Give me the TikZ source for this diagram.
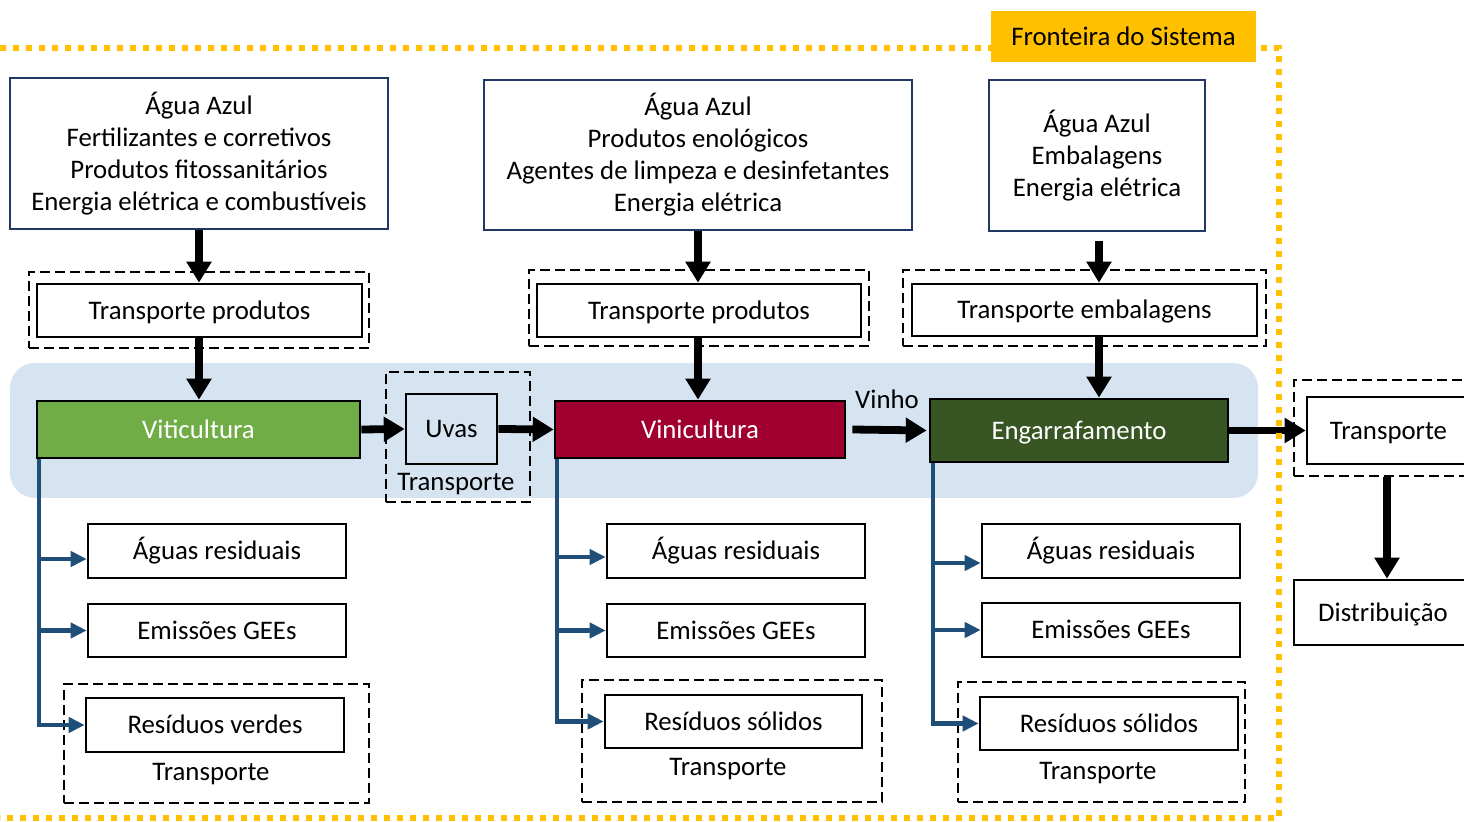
\documentclass[tikz,border=0pt]{standalone}
\usepackage{fontspec}
\setmainfont{Carlito}
\usetikzlibrary{arrows.meta}

\definecolor{navyline}{HTML}{1F3864}
\definecolor{bandblue}{HTML}{D6E4F2}
\definecolor{vitgreen}{HTML}{70AD47}
\definecolor{vinred}{HTML}{A0002F}
\definecolor{enggreen}{HTML}{375623}
\definecolor{outblue}{HTML}{1F4E79}
\definecolor{gold}{HTML}{FFC000}

\begin{document}
\begin{tikzpicture}[x=0.5pt,y=-0.5pt,
  font=\fontsize{13.4pt}{16pt}\selectfont,
  sz/.style 2 args={minimum width=#1*0.5pt, minimum height=#2*0.5pt},
  oneline/.style={text height=11pt, text depth=2pt},
  inbox/.style={draw=navyline, line width=1.4pt, fill=white, inner sep=0pt, align=center},
  sbox/.style={draw=black, line width=1.3pt, inner sep=0pt, oneline},
  dbox/.style={draw=black, line width=1.2pt, dash pattern=on 5pt off 2.5pt, inner sep=0pt},
  proc/.style={draw=black, line width=1.3pt, inner sep=0pt, text=white, oneline},
  flow/.style={line width=3.9pt, -{Triangle[length=10.5pt,width=12pt]}},
  outflow/.style={draw=outblue, line width=2.2pt, -{Triangle[length=8pt,width=7.5pt]}},
  boundary/.style={draw=gold, line width=2.6pt, dash pattern=on 3.2pt off 3.3pt},
]
\useasboundingbox (0,0) rectangle (1464,822);
\clip (0,0) rectangle (1464,822);

% process band
\fill[bandblue, rounded corners=12.5pt] (10,363) rectangle (1258,498);

% inputs
\node[inbox, sz={378}{151}] (in1) at (199,153.5) {Água Azul\\Fertilizantes e corretivos\\Produtos fitossanitários\\Energia elétrica e combustíveis};
\node[inbox, sz={428}{150}] (in2) at (698,155) {Água Azul\\Produtos enológicos\\Agentes de limpeza e desinfetantes\\Energia elétrica};
\node[inbox, sz={216}{151}] (in3) at (1097,155.5) {Água Azul\\Embalagens\\Energia elétrica};

% transport of inputs
\node[dbox, sz={340}{76}] (tp1d) at (199,310) {};
\node[sbox, sz={325}{53}] (tp1) at (199.5,310.5) {Transporte produtos};
\node[dbox, sz={340}{76}] (tp2d) at (699,308) {};
\node[sbox, sz={324}{53}] (tp2) at (699,310.5) {Transporte produtos};
\node[dbox, sz={363}{76}] (tp3d) at (1084.5,308) {};
\node[sbox, sz={345}{52}] (tp3) at (1084.5,310) {Transporte embalagens};

% main processes
\node[proc, fill=vitgreen, sz={323}{57}] (vit) at (198.5,429.5) {Viticultura};
\node[dbox, sz={144}{130}] (uvd) at (458,437) {};
\node[sbox, sz={91}{70}] (uv) at (451.5,429) {Uvas};
\node (uvt) at (456,484) {Transporte};
\node[proc, fill=vinred, sz={290}{57}] (vin) at (700,429.5) {Vinicultura};
\node (vinho) at (887,399) {Vinho};
\node[proc, fill=enggreen, sz={298}{63}] (eng) at (1079,430.5) {Engarrafamento};

% downstream
\node[dbox, sz={186}{96}] (trd) at (1387,428) {};
\node[sbox, sz={163}{67}] (tr) at (1388.5,430.5) {Transporte};
\node[sbox, sz={178}{65}] (dist) at (1383,612.5) {Distribuição};

% outputs
\node[sbox, sz={258}{54}] (a1) at (217,551) {Águas residuais};
\node[sbox, sz={258}{53}] (e1) at (217,630.5) {Emissões GEEs};
\node[dbox, sz={305}{119}] (r1d) at (216.5,743.5) {};
\node[sbox, sz={258}{54}] (r1) at (215,725) {Resíduos verdes};
\node (r1t) at (211,774) {Transporte};

\node[sbox, sz={258}{54}] (a2) at (736,551) {Águas residuais};
\node[sbox, sz={258}{53}] (e2) at (736,630.5) {Emissões GEEs};
\node[dbox, sz={300}{122}] (r2d) at (732,741) {};
\node[sbox, sz={257}{53}] (r2) at (733.5,721.5) {Resíduos sólidos};
\node (r2t) at (728,769) {Transporte};

\node[sbox, sz={258}{54}] (a3) at (1111,551) {Águas residuais};
\node[sbox, sz={258}{54}] (e3) at (1111,630) {Emissões GEEs};
\node[dbox, sz={287}{120}] (r3d) at (1101.5,742) {};
\node[sbox, sz={258}{53}] (r3) at (1109,723.5) {Resíduos sólidos};
\node (r3t) at (1098,773) {Transporte};

% input flows
\draw[flow] (in1.south) -- (in1.south |- tp1.north);
\draw[flow] (tp1.south -| in1.south) -- (in1.south |- vit.north);
\draw[flow] (in2.south) -- (in2.south |- tp2.north);
\draw[flow] (tp2.south -| in2.south) -- (in2.south |- vin.north);
\draw[flow] ([xshift=1pt,yshift=-4.5pt]in3.south) -- ([xshift=1pt]in3.south |- tp3.north);
\draw[flow] ([xshift=1pt]tp3.south -| in3.south) -- ([xshift=1pt]in3.south |- eng.north);

% main chain
\draw[flow] (vit.east) -- (uv.west);
\draw[flow] (uv.east) -- (vin.west);
\draw[flow] ([xshift=3pt]vin.east) -- ([xshift=-1pt]eng.west);
\draw[flow] (eng.east) -- (tr.west);
\draw[flow] (trd.south) -- (trd.south |- dist.north);

% outputs of each stage
\draw[outflow] ([xshift=1.5pt]vit.south west) |- ([yshift=-4pt]a1.west);
\draw[outflow] ([xshift=1.5pt]vit.south west) |- (e1.west);
\draw[outflow] ([xshift=1.5pt]vit.south west) |- (r1.west);
\draw[outflow] ([xshift=1.5pt]vin.south west) |- ([yshift=-3pt]a2.west);
\draw[outflow] ([xshift=1.5pt]vin.south west) |- (e2.west);
\draw[outflow] ([xshift=1.5pt]vin.south west) |- (r2.west);
\draw[outflow] ([xshift=2pt]eng.south west) |- ([yshift=-6pt]a3.west);
\draw[outflow] ([xshift=2pt]eng.south west) |- (e3.west);
\draw[outflow] ([xshift=2pt]eng.south west) |- (r3.west);

% system boundary
\draw[boundary] (0,48) -- (1279,48) -- (1279,818) -- (0,818);
\node[fill=gold, inner sep=0pt, oneline, sz={265}{51}] (fr) at (1123.5,36.5) {Fronteira do Sistema};
\end{tikzpicture}
\end{document}
